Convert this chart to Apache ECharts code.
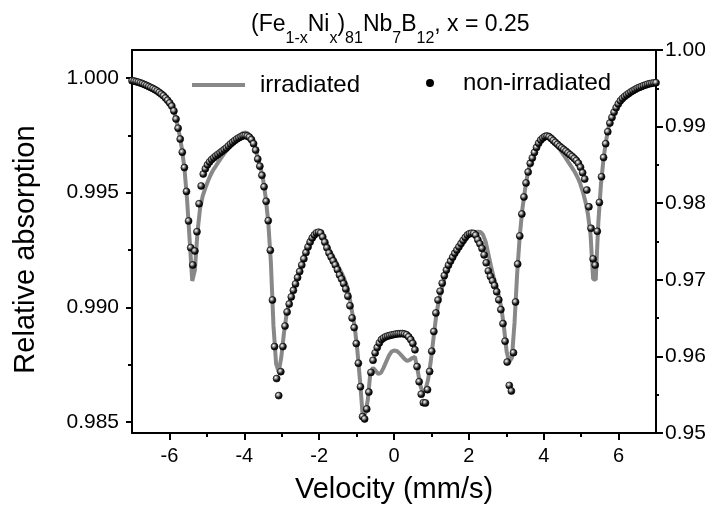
<!DOCTYPE html>
<html><head><meta charset="utf-8">
<script src="https://cdn.jsdelivr.net/npm/echarts@6/dist/echarts.min.js"></script>
<style>html,body{margin:0;padding:0;background:#fff}#c{width:710px;height:518px}</style>
</head><body><div id="c"></div><script>
// velocities of the measured channels (non-irradiated points)
const channelVelocity = [
-7.000,-6.944,-6.888,-6.832,-6.776,-6.720,-6.664,-6.608,-6.552,-6.496,
-6.440,-6.384,-6.328,-6.272,-6.216,-6.160,-6.104,-6.048,-5.992,-5.936,
-5.880,-5.824,-5.768,-5.712,-5.656,-5.600,-5.544,-5.488,-5.432,-5.376,
-5.320,-5.264,-5.208,-5.152,-5.096,-5.040,-4.984,-4.928,-4.872,-4.816,
-4.760,-4.704,-4.648,-4.592,-4.536,-4.480,-4.424,-4.368,-4.312,-4.256,
-4.200,-4.144,-4.088,-4.032,-3.976,-3.920,-3.864,-3.808,-3.752,-3.696,
-3.640,-3.584,-3.528,-3.472,-3.416,-3.360,-3.304,-3.248,-3.192,-3.136,
-3.080,-3.024,-2.968,-2.912,-2.856,-2.800,-2.744,-2.688,-2.632,-2.576,
-2.520,-2.464,-2.408,-2.352,-2.296,-2.240,-2.184,-2.128,-2.072,-2.016,
-1.960,-1.904,-1.848,-1.792,-1.736,-1.680,-1.624,-1.568,-1.512,-1.456,
-1.400,-1.344,-1.288,-1.232,-1.176,-1.120,-1.064,-1.008,-0.952,-0.896,
-0.840,-0.784,-0.728,-0.672,-0.616,-0.560,-0.504,-0.448,-0.392,-0.336,
-0.280,-0.224,-0.168,-0.112,-0.056,0.000,0.056,0.112,0.168,0.224,
0.280,0.336,0.392,0.448,0.504,0.560,0.616,0.672,0.728,0.784,
0.840,0.896,0.952,1.008,1.064,1.120,1.176,1.232,1.288,1.344,
1.400,1.456,1.512,1.568,1.624,1.680,1.736,1.792,1.848,1.904,
1.960,2.016,2.072,2.128,2.184,2.240,2.296,2.352,2.408,2.464,
2.520,2.576,2.632,2.688,2.744,2.800,2.856,2.912,2.968,3.024,
3.080,3.136,3.192,3.248,3.304,3.360,3.416,3.472,3.528,3.584,
3.640,3.696,3.752,3.808,3.864,3.920,3.976,4.032,4.088,4.144,
4.200,4.256,4.312,4.368,4.424,4.480,4.536,4.592,4.648,4.704,
4.760,4.816,4.872,4.928,4.984,5.040,5.096,5.152,5.208,5.264,
5.320,5.376,5.432,5.488,5.544,5.600,5.656,5.712,5.768,5.824,
5.880,5.936,5.992,6.048,6.104,6.160,6.216,6.272,6.328,6.384,
6.440,6.496,6.552,6.608,6.664,6.720,6.776,6.832,6.888,6.944,7.000];

// non-irradiated (right axis)
const nonIrradiated = [
0.99599,0.99594,0.99587,0.99580,0.99570,0.99561,0.99548,0.99537,0.99523,0.99510,
0.99497,0.99482,0.99465,0.99446,0.99424,0.99402,0.99373,0.99343,0.99309,0.99268,
0.99205,0.99099,0.98979,0.98837,0.98666,0.98465,0.98153,0.97768,0.97419,0.97193,
0.97376,0.97628,0.97993,0.98225,0.98381,0.98449,0.98501,0.98539,0.98569,0.98593,
0.98616,0.98637,0.98658,0.98679,0.98700,0.98721,0.98747,0.98773,0.98796,0.98817,
0.98838,0.98854,0.98869,0.98880,0.98883,0.98877,0.98862,0.98830,0.98777,0.98693,
0.98577,0.98483,0.98364,0.98214,0.98025,0.97772,0.97385,0.96736,0.96128,0.95711,
0.95488,0.95801,0.96128,0.96396,0.96580,0.96684,0.96777,0.96862,0.96946,0.97029,
0.97108,0.97193,0.97274,0.97355,0.97429,0.97493,0.97546,0.97586,0.97612,0.97621,
0.97611,0.97559,0.97491,0.97418,0.97350,0.97299,0.97247,0.97194,0.97132,0.97063,
0.97010,0.96950,0.96880,0.96786,0.96661,0.96501,0.96376,0.96168,0.95911,0.95604,
0.95214,0.95184,0.95313,0.95534,0.95791,0.95949,0.96046,0.96116,0.96175,0.96219,
0.96240,0.96256,0.96265,0.96273,0.96281,0.96286,0.96291,0.96295,0.96296,0.96298,
0.96292,0.96282,0.96256,0.96219,0.96170,0.96086,0.95867,0.95670,0.95507,0.95396,
0.95392,0.95565,0.95804,0.96068,0.96325,0.96567,0.96735,0.96851,0.96956,0.97054,
0.97128,0.97191,0.97244,0.97296,0.97346,0.97389,0.97431,0.97473,0.97514,0.97552,
0.97584,0.97601,0.97608,0.97606,0.97582,0.97522,0.97469,0.97409,0.97325,0.97221,
0.97115,0.97044,0.96986,0.96924,0.96843,0.96738,0.96611,0.96428,0.96198,0.95926,
0.95621,0.95548,0.96048,0.96710,0.97206,0.97572,0.97859,0.98081,0.98264,0.98407,
0.98520,0.98590,0.98662,0.98728,0.98783,0.98825,0.98850,0.98869,0.98875,0.98866,
0.98845,0.98819,0.98794,0.98768,0.98743,0.98722,0.98700,0.98679,0.98655,0.98632,
0.98611,0.98585,0.98557,0.98522,0.98469,0.98398,0.98315,0.98172,0.97953,0.97672,
0.97273,0.97192,0.97633,0.98010,0.98345,0.98597,0.98777,0.98933,0.99046,0.99120,
0.99188,0.99247,0.99296,0.99337,0.99367,0.99392,0.99414,0.99433,0.99453,0.99469,
0.99484,0.99500,0.99512,0.99522,0.99534,0.99543,0.99554,0.99560,0.99565,0.99570,0.99573];

// velocities of the fitted curve (irradiated)
const fitVelocity = [
-7.00,-6.93,-6.86,-6.79,-6.72,-6.65,-6.58,-6.51,-6.44,-6.37,
-6.30,-6.23,-6.16,-6.09,-6.02,-5.95,-5.88,-5.81,-5.74,-5.67,
-5.60,-5.53,-5.46,-5.39,-5.32,-5.25,-5.18,-5.11,-5.04,-4.97,
-4.90,-4.83,-4.76,-4.69,-4.62,-4.55,-4.48,-4.41,-4.34,-4.27,
-4.20,-4.13,-4.06,-3.99,-3.92,-3.85,-3.78,-3.71,-3.64,-3.57,
-3.50,-3.43,-3.36,-3.29,-3.22,-3.15,-3.08,-3.01,-2.94,-2.87,
-2.80,-2.73,-2.66,-2.59,-2.52,-2.45,-2.38,-2.31,-2.24,-2.17,
-2.10,-2.03,-1.96,-1.89,-1.82,-1.75,-1.68,-1.61,-1.54,-1.47,
-1.40,-1.33,-1.26,-1.19,-1.12,-1.05,-0.98,-0.91,-0.84,-0.77,
-0.70,-0.63,-0.56,-0.49,-0.42,-0.35,-0.28,-0.21,-0.14,-0.07,
0.00,0.07,0.14,0.21,0.28,0.35,0.42,0.49,0.56,0.63,
0.70,0.77,0.84,0.91,0.98,1.05,1.12,1.19,1.26,1.33,
1.40,1.47,1.54,1.61,1.68,1.75,1.82,1.89,1.96,2.03,
2.10,2.17,2.24,2.31,2.38,2.45,2.52,2.59,2.66,2.73,
2.80,2.87,2.94,3.01,3.08,3.15,3.22,3.29,3.36,3.43,
3.50,3.57,3.64,3.71,3.78,3.85,3.92,3.99,4.06,4.13,
4.20,4.27,4.34,4.41,4.48,4.55,4.62,4.69,4.76,4.83,
4.90,4.97,5.04,5.11,5.18,5.25,5.32,5.39,5.46,5.53,
5.60,5.67,5.74,5.81,5.88,5.95,6.02,6.09,6.16,6.23,
6.30,6.37,6.44,6.51,6.58,6.65,6.72,6.79,6.86,6.93,7.00];

// irradiated (left axis)
const irradiated = [
0.99989,0.99987,0.99984,0.99981,0.99976,0.99972,0.99966,0.99961,0.99955,0.99949,
0.99942,0.99933,0.99923,0.99912,0.99898,0.99880,0.99854,0.99813,0.99760,0.99695,
0.99608,0.99473,0.99294,0.99115,0.99163,0.99329,0.99433,0.99486,0.99520,0.99551,
0.99577,0.99599,0.99616,0.99634,0.99651,0.99667,0.99682,0.99699,0.99717,0.99728,
0.99738,0.99749,0.99758,0.99762,0.99760,0.99749,0.99730,0.99699,0.99651,0.99612,
0.99560,0.99481,0.99372,0.99198,0.98919,0.98753,0.98718,0.98784,0.98888,0.98971,
0.99019,0.99058,0.99093,0.99128,0.99163,0.99198,0.99237,0.99272,0.99298,0.99316,
0.99327,0.99329,0.99320,0.99307,0.99285,0.99259,0.99237,0.99215,0.99194,0.99172,
0.99150,0.99124,0.99093,0.99045,0.98980,0.98915,0.98814,0.98684,0.98535,0.98535,
0.98596,0.98718,0.98736,0.98723,0.98710,0.98714,0.98736,0.98762,0.98788,0.98806,
0.98812,0.98810,0.98801,0.98788,0.98775,0.98766,0.98771,0.98779,0.98784,0.98727,
0.98662,0.98627,0.98640,0.98684,0.98762,0.98858,0.98954,0.99024,0.99071,0.99115,
0.99150,0.99180,0.99202,0.99224,0.99246,0.99263,0.99279,0.99294,0.99307,0.99318,
0.99324,0.99329,0.99330,0.99329,0.99316,0.99285,0.99233,0.99180,0.99133,0.99093,
0.99050,0.98997,0.98910,0.98806,0.98762,0.98779,0.98932,0.99146,0.99311,0.99429,
0.99512,0.99582,0.99629,0.99664,0.99695,0.99721,0.99738,0.99749,0.99756,0.99754,
0.99745,0.99730,0.99712,0.99695,0.99677,0.99660,0.99643,0.99625,0.99608,0.99590,
0.99568,0.99542,0.99507,0.99464,0.99407,0.99320,0.99124,0.99119,0.99372,0.99538,
0.99651,0.99730,0.99791,0.99826,0.99852,0.99876,0.99895,0.99908,0.99919,0.99928,
0.99937,0.99943,0.99950,0.99956,0.99961,0.99965,0.99969,0.99974,0.99976,0.99978,0.99980];

const xTickLabels = [-6,-4,-2,0,2,4,6];
const xMinorTicks = [-5,-3,-1,1,3,5];
const leftTickLabels = [0.985,0.990,0.995,1.000];
const leftMinorTicks = [0.9875,0.9925,0.9975];

const FONT = '"Liberation Sans", Arial, sans-serif';
const chart = echarts.init(document.getElementById('c'), null, {renderer:'canvas'});
const gridPos = {left:132, right:54, top:50, bottom:85};
const blackLine = {color:'#000', width:2};
const sphere = {type:'radial', x:0.38, y:0.36, r:0.62, colorStops:[
  {offset:0, color:'#ffffff'}, {offset:0.3, color:'#9a9a9a'}, {offset:0.65, color:'#1a1a1a'}, {offset:1, color:'#000000'}]};

chart.setOption({
  animation:false,
  backgroundColor:'#fff',
  title:{
    text:'{m|(Fe}{s|1-x}{m|Ni}{s|x}{m|)}{s|81}{m|Nb}{s|7}{m|B}{s|12}{m|, x = 0.25}',
    left:246, top:8,
    textStyle:{fontWeight:'normal', rich:{
      m:{fontSize:23, fontFamily:FONT, fontWeight:'normal', color:'#000', lineHeight:22, verticalAlign:'top'},
      s:{fontSize:16, fontFamily:FONT, fontWeight:'normal', color:'#000', padding:[18,0,0,0], verticalAlign:'top'}
    }}
  },
  legend:[
    {data:[{name:'irradiated', icon:'rect', itemStyle:{color:'#888888'}}], left:187, top:68, itemWidth:53, itemHeight:4, selectedMode:false,
     textStyle:{fontSize:24, fontFamily:FONT, color:'#000', padding:[0,0,0,10]}},
    {data:[{name:'non-irradiated', icon:'circle', itemStyle:{color:'#000'}}], left:421, top:66, itemWidth:6, itemHeight:6, selectedMode:false,
     textStyle:{fontSize:24, fontFamily:FONT, color:'#000', padding:[0,0,0,25]}}
  ],
  grid:[gridPos, gridPos],
  xAxis:[
    {gridIndex:0, type:'value', min:-7, max:7, position:'bottom',
     name:'Velocity (mm/s)', nameLocation:'middle', nameGap:42,
     nameTextStyle:{fontSize:29, fontFamily:FONT, color:'#000'},
     axisLine:{onZero:false, lineStyle:blackLine},
     axisTick:{show:true, inside:false, length:7, customValues:xTickLabels, lineStyle:blackLine},
     axisLabel:{customValues:xTickLabels, fontSize:20, fontFamily:FONT, color:'#000', margin:13},
     splitLine:{show:false}},
    {gridIndex:0, type:'value', min:-7, max:7, position:'top',
     axisLine:{onZero:false, lineStyle:blackLine}, axisTick:{show:false}, axisLabel:{show:false}, splitLine:{show:false}},
    {gridIndex:1, type:'value', min:-7, max:7, position:'bottom',
     axisLine:{show:false, onZero:false}, axisTick:{show:true, length:4, customValues:xMinorTicks, lineStyle:blackLine},
     axisLabel:{show:false}, splitLine:{show:false}}
  ],
  yAxis:[
    {gridIndex:0, type:'value', min:0.98452, max:1.00122, position:'left',
     name:'Relative absorption', nameLocation:'middle', nameGap:92, nameRotate:90,
     nameTextStyle:{fontSize:29, fontFamily:FONT, color:'#000', padding:[0,16,0,0]},
     axisLine:{show:true, onZero:false, lineStyle:blackLine},
     axisTick:{show:true, length:6, customValues:leftTickLabels, lineStyle:blackLine},
     axisLabel:{customValues:leftTickLabels, formatter:v=>v.toFixed(3), fontSize:21, fontFamily:FONT, color:'#000', margin:13},
     splitLine:{show:false}},
    {gridIndex:0, type:'value', min:0.95, max:1.00, interval:0.01, position:'right',
     axisLine:{show:true, onZero:false, lineStyle:blackLine},
     axisTick:{show:true, length:7, lineStyle:blackLine},
     minorTick:{show:true, splitNumber:2, length:3, lineStyle:blackLine},
     axisLabel:{formatter:v=>v.toFixed(2), fontSize:21, fontFamily:FONT, color:'#000', margin:9},
     splitLine:{show:false}, minorSplitLine:{show:false}},
    {gridIndex:1, type:'value', min:0.98452, max:1.00122, position:'left',
     axisLine:{show:false, onZero:false}, axisTick:{show:true, length:4, customValues:leftMinorTicks, lineStyle:blackLine},
     axisLabel:{show:false}, splitLine:{show:false}}
  ],
  series:[
    {type:'line', name:'irradiated', xAxisIndex:0, yAxisIndex:0,
     data:fitVelocity.map((v,i)=>[v, irradiated[i]]),
     symbol:'none', showSymbol:false, lineStyle:{color:'#888888', width:4}, itemStyle:{color:'#888888'}, z:2},
    {type:'scatter', name:'non-irradiated', xAxisIndex:0, yAxisIndex:1,
     data:channelVelocity.map((v,i)=>[v, nonIrradiated[i]]),
     symbol:'circle', symbolSize:7, itemStyle:{color:sphere, borderColor:'#000', borderWidth:0.6, opacity:1}, z:3}
  ]
});
</script></body></html>
